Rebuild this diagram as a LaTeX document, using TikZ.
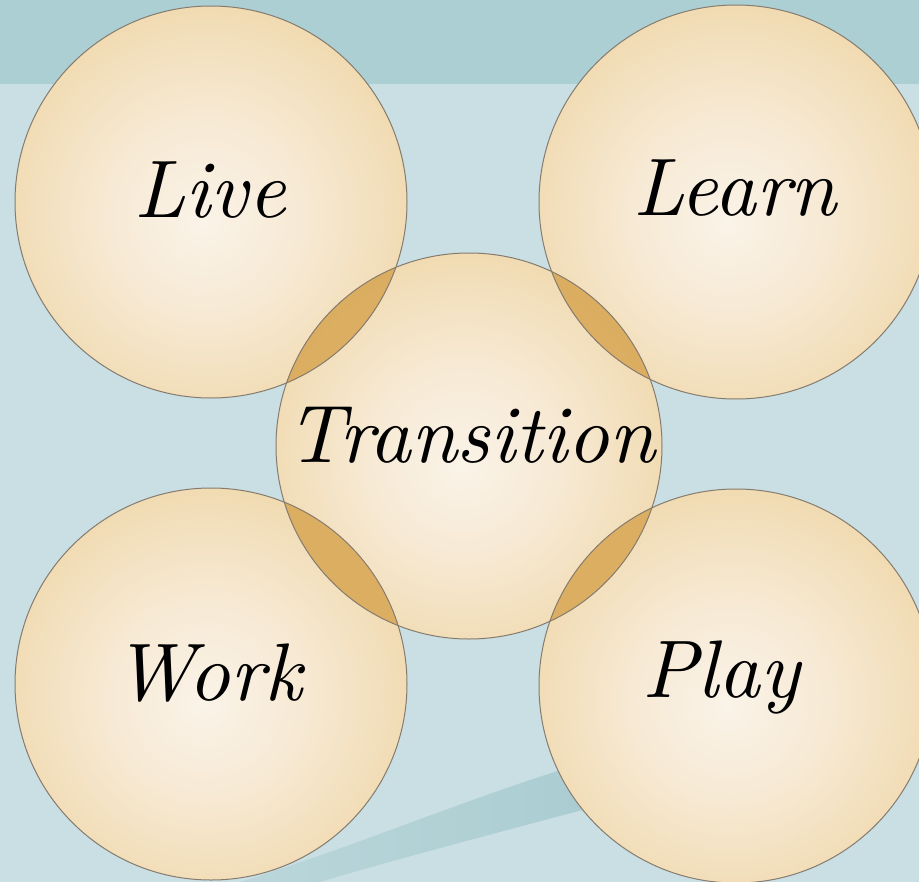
\documentclass[tikz,border=0pt]{standalone}
\usepackage{fontspec}
\usepackage{tikz}
\usetikzlibrary{positioning,calc}
\newfontfamily\wordfont{lmroman10-italic}[Extension=.otf]

\definecolor{bandtop}{HTML}{ABCFD3}
\definecolor{bandlow}{HTML}{C9DFE4}
\definecolor{stripe}{HTML}{A9CCD0}
\definecolor{lens}{HTML}{DAAA5A}
\definecolor{rim}{HTML}{857B6E}
\pgfdeclareradialshading{ball}{\pgfpoint{-1bp}{-2.5bp}}{color(0bp)=(rgb,255:red,250;green,243;blue,232); color(12bp)=(rgb,255:red,247;green,234;blue,213); color(25bp)=(rgb,255:red,241;green,220;blue,181); color(38bp)=(rgb,255:red,235;green,203;blue,147); color(50bp)=(rgb,255:red,227;green,186;blue,118)}

\begin{document}
\begin{tikzpicture}[x=1bp, y=-1bp]
\tikzstyle{bubble}=[circle, shading=ball, inner sep=0pt]
\tikzstyle{word}=[anchor=base, inner sep=0pt, font=\fontsize{82}{98}\selectfont\wordfont]
\tikzstyle{ring}=[draw=rim, line width=1bp]

\useasboundingbox (0,0) rectangle (919,882);
\fill[bandlow] (0,0) rectangle (919,882);
\fill[bandtop] (0,0) rectangle (919,84);
\shade[left color=stripe!45!bandlow, right color=stripe]
  (240,882) .. controls (380,838) and (480,792) .. (620,752)
  -- (620,800) .. controls (500,832) and (400,858) .. (320,882) -- cycle;

\node[bubble, minimum size=392bp] (live) at (211,202) {};
\node[bubble, minimum size=394bp] (learn) at (736,202) {};
\node[bubble, minimum size=392bp] (work) at (211,684) {};
\node[bubble, minimum size=394bp] (play) at (736,686) {};
\node[bubble, minimum size=386bp] (trans) at (469,446) {};

\begin{scope}
\clip (trans.center) circle (193);
\fill[lens, opacity=0.92] (live.center) circle (196);
\fill[lens, opacity=0.92] (learn.center) circle (197);
\fill[lens, opacity=0.92] (work.center) circle (196);
\fill[lens, opacity=0.92] (play.center) circle (197);
\end{scope}

\draw[ring] (live.center) circle (196);
\draw[ring] (learn.center) circle (197);
\draw[ring] (work.center) circle (196);
\draw[ring] (play.center) circle (197);
\draw[ring] (trans.center) circle (193);

\node[word] (tlive) at (210,217) {Live};
\node[word] (tlearn) at (735,215) {Learn};
\node[word] (twork) at (208,700) {Work};
\node[word] (tplay) at (721,697) {Play};
\node[word] (ttrans) at (471,462) {Transition};
\end{tikzpicture}
\end{document}
